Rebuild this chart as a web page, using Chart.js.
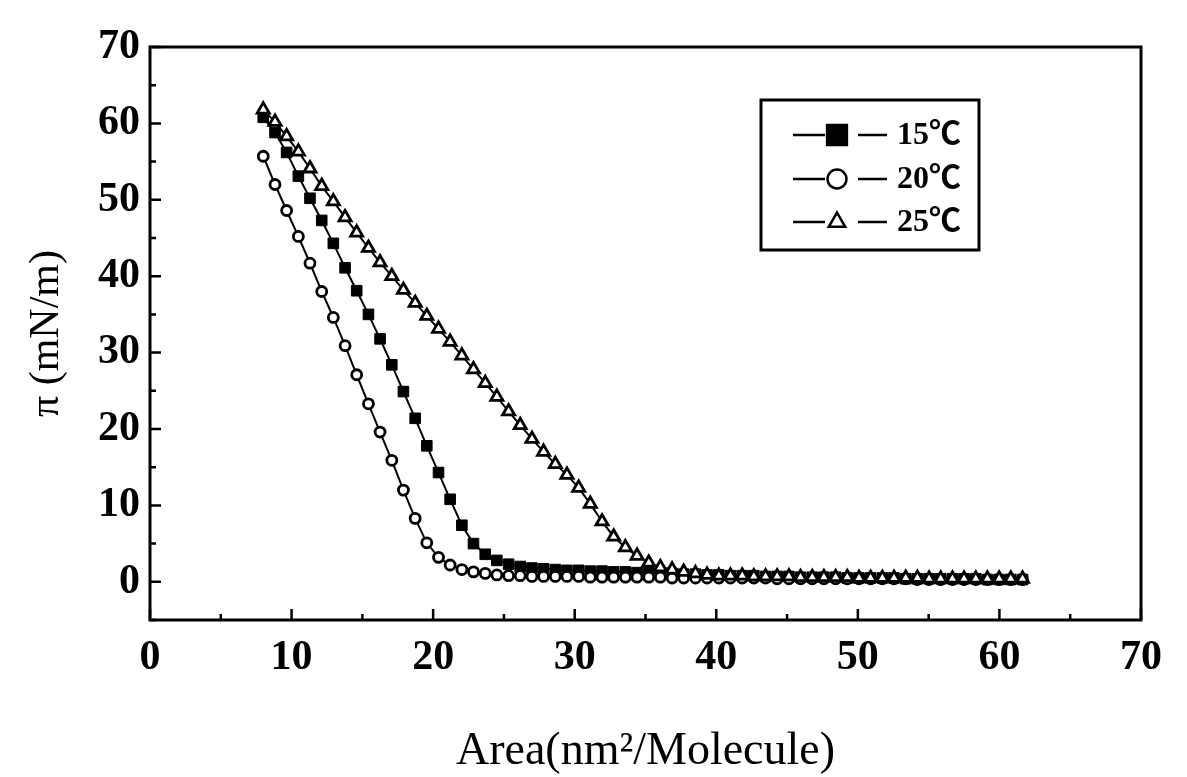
<!DOCTYPE html>
<html>
<head>
<meta charset="utf-8">
<script src="https://cdn.jsdelivr.net/npm/chart.js@4.4.1/dist/chart.umd.min.js"></script>
<style>
  html, body { margin: 0; padding: 0; background: #fff; }
  #wrap { width: 1187px; height: 777px; position: relative; }
</style>
</head>
<body>
<div id="wrap"><canvas id="chart"></canvas></div>
<script>
// 면적 (nm2/Molecule) - 세 곡선 공통
const area = [8.0, 8.83, 9.65, 10.48, 11.3, 12.13, 12.95, 13.78, 14.6, 15.43,
  16.25, 17.08, 17.9, 18.73, 19.55, 20.38, 21.2, 22.03, 22.85, 23.68,
  24.5, 25.33, 26.15, 26.98, 27.8, 28.63, 29.45, 30.28, 31.1, 31.93,
  32.75, 33.58, 34.4, 35.23, 36.05, 36.88, 37.7, 38.53, 39.35, 40.18,
  41.0, 41.83, 42.65, 43.48, 44.3, 45.13, 45.95, 46.78, 47.6, 48.43,
  49.25, 50.08, 50.9, 51.73, 52.55, 53.38, 54.2, 55.03, 55.85, 56.68,
  57.5, 58.33, 59.15, 59.98, 60.8, 61.63];

// 표면압 (mN/m)
const pi15 = [60.8, 58.8, 56.2, 53.1, 50.2, 47.3, 44.3, 41.1, 38.1, 35.0,
  31.8, 28.4, 24.9, 21.4, 17.8, 14.3, 10.8, 7.4, 5.0, 3.6,
  2.8, 2.3, 2.0, 1.8, 1.7, 1.6, 1.5, 1.5, 1.4, 1.4,
  1.3, 1.3, 1.2, 1.2, 1.1, 1.1, 1.0, 1.0, 0.9, 0.9,
  0.8, 0.8, 0.8, 0.7, 0.7, 0.7, 0.6, 0.6, 0.6, 0.6,
  0.5, 0.5, 0.5, 0.5, 0.5, 0.4, 0.4, 0.4, 0.4, 0.4,
  0.4, 0.4, 0.3, 0.3, 0.3, 0.3];
const pi20 = [55.7, 52.0, 48.6, 45.2, 41.7, 38.0, 34.6, 30.9, 27.1, 23.3,
  19.6, 15.9, 12.0, 8.3, 5.1, 3.2, 2.2, 1.6, 1.3, 1.1,
  0.9, 0.8, 0.8, 0.7, 0.7, 0.7, 0.7, 0.7, 0.6, 0.6,
  0.6, 0.6, 0.6, 0.6, 0.6, 0.5, 0.5, 0.5, 0.5, 0.5,
  0.5, 0.5, 0.5, 0.5, 0.4, 0.4, 0.4, 0.4, 0.4, 0.4,
  0.4, 0.4, 0.4, 0.4, 0.4, 0.4, 0.3, 0.3, 0.3, 0.3,
  0.3, 0.3, 0.3, 0.3, 0.3, 0.3];
const pi25 = [61.8, 60.2, 58.3, 56.3, 54.1, 51.8, 49.8, 47.7, 45.7, 43.7,
  41.8, 40.0, 38.2, 36.5, 34.8, 33.1, 31.4, 29.6, 27.8, 26.0,
  24.2, 22.3, 20.5, 18.7, 17.0, 15.4, 14.0, 12.3, 10.2, 7.9,
  5.9, 4.5, 3.4, 2.5, 1.9, 1.6, 1.3, 1.1, 0.9, 0.8,
  0.8, 0.8, 0.7, 0.7, 0.7, 0.7, 0.6, 0.6, 0.6, 0.6,
  0.6, 0.5, 0.5, 0.5, 0.5, 0.5, 0.5, 0.4, 0.4, 0.4,
  0.4, 0.4, 0.4, 0.4, 0.4, 0.4];

const seriesNames = ['15℃', '20℃', '25℃'];

const toPoints = (ys) => area.map((x, i) => ({ x: x, y: ys[i] }));

const tickFont = { family: "'Liberation Serif', serif", size: 42, weight: 'bold' };

// 안쪽 눈금 + 테두리
const framePlugin = {
  id: 'frame',
  afterDraw(chart) {
    const c = chart.ctx;
    const a = chart.chartArea;
    const xs = chart.scales.x;
    const ys = chart.scales.y;
    c.save();
    c.strokeStyle = '#000';
    c.lineWidth = 2.5;
    c.beginPath();
    xs.ticks.forEach(t => {
      const px = xs.getPixelForValue(t.value);
      const len = t.value % 10 === 0 ? 11 : 6;
      c.moveTo(px, a.bottom);
      c.lineTo(px, a.bottom - len);
    });
    ys.ticks.forEach(t => {
      const py = ys.getPixelForValue(t.value);
      const len = t.value % 10 === 0 ? 11 : 6;
      c.moveTo(a.left, py);
      c.lineTo(a.left + len, py);
    });
    c.stroke();
    c.lineWidth = 3;
    c.strokeRect(a.left, a.top, a.right - a.left, a.bottom - a.top);
    c.restore();
  }
};

// 범례 (박스 안)
const legendPlugin = {
  id: 'boxLegend',
  afterDraw(chart) {
    const c = chart.ctx;
    const a = chart.chartArea;
    const bx = a.left + 611, by = a.top + 53, bw = 218, bh = 150;
    c.save();
    c.strokeStyle = '#000';
    c.lineWidth = 3;
    c.strokeRect(bx, by, bw, bh);
    const rows = [35, 79, 122];
    chart.data.datasets.forEach((ds, i) => {
      const y = by + rows[i];
      c.lineWidth = 2.5;
      c.strokeStyle = '#000';
      c.beginPath();
      c.moveTo(bx + 32, y); c.lineTo(bx + 64, y);
      c.moveTo(bx + 97, y); c.lineTo(bx + 126, y);
      c.stroke();
      c.fillStyle = ds.pointBackgroundColor;
      c.strokeStyle = '#000';
      Chart.helpers.drawPoint(c, {
        pointStyle: ds.pointStyle,
        radius: ds.pointStyle === 'rect' ? 14 : 9.5,
        rotation: 0,
        borderWidth: 2.5
      }, bx + 76, y);
      c.fillStyle = '#000';
      c.font = "bold 32px 'Liberation Serif', 'Noto Sans CJK SC', serif";
      c.textBaseline = 'middle';
      c.textAlign = 'left';
      c.fillText(seriesNames[i], bx + 136, y + 1);
    });
    c.restore();
  }
};

const config = {
  type: 'line',
  data: {
    datasets: [
      {
        label: seriesNames[0],
        data: toPoints(pi15),
        borderColor: '#000',
        borderWidth: 2,
        pointStyle: 'rect',
        pointRadius: 7.5,
        pointBackgroundColor: '#000',
        pointBorderColor: '#000',
        pointBorderWidth: 1,
        order: 2
      },
      {
        label: seriesNames[1],
        data: toPoints(pi20),
        borderColor: '#000',
        borderWidth: 2,
        pointStyle: 'circle',
        pointRadius: 5,
        pointBackgroundColor: '#fff',
        pointBorderColor: '#000',
        pointBorderWidth: 2.8,
        order: 1
      },
      {
        label: seriesNames[2],
        data: toPoints(pi25),
        borderColor: '#000',
        borderWidth: 2,
        pointStyle: 'triangle',
        pointRadius: 7,
        pointBackgroundColor: '#fff',
        pointBorderColor: '#000',
        pointBorderWidth: 2.8,
        order: 0
      }
    ]
  },
  options: {
    responsive: true,
    maintainAspectRatio: false,
    animation: false,
    layout: { padding: { top: 47, right: 46, left: 0, bottom: 0 } },
    plugins: {
      legend: { display: false },
      tooltip: { enabled: false }
    },
    scales: {
      x: {
        type: 'linear',
        min: 0,
        max: 70,
        grid: { display: false, drawTicks: false },
        border: { display: false },
        ticks: {
          stepSize: 5,
          autoSkip: false,
          maxRotation: 0,
          padding: 13,
          color: '#000',
          font: tickFont,
          callback: (v) => (v % 10 === 0 ? v : '')
        },
        title: {
          display: true,
          text: 'Area(nm²/Molecule)',
          color: '#000',
          font: { family: "'Liberation Serif', serif", size: 46, lineHeight: 1 },
          padding: { top: 0, bottom: 2 }
        },
        afterFit(scale) { scale.height = 157; }
      },
      y: {
        min: -5,
        max: 70,
        grid: { display: false, drawTicks: false },
        border: { display: false },
        ticks: {
          stepSize: 5,
          autoSkip: false,
          padding: 10,
          color: '#000',
          font: tickFont,
          callback: (v) => (v % 10 === 0 && v >= 0 ? v : '')
        },
        title: {
          display: true,
          text: 'π (mN/m)',
          color: '#000',
          font: { family: "'Liberation Serif', serif", size: 42, lineHeight: 1 },
          padding: { top: 26, bottom: 0 }
        },
        afterFit(scale) { scale.width = 150; }
      }
    }
  },
  plugins: [framePlugin, legendPlugin]
};

const chart = new Chart(document.getElementById('chart'), config);
</script>
</body>
</html>
